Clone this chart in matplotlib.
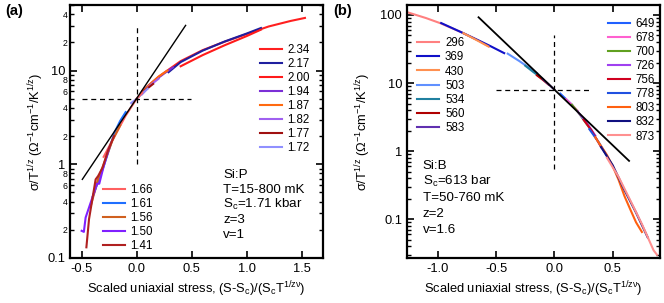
import matplotlib
matplotlib.use("Agg")
import matplotlib.pyplot as plt
import numpy as np
from matplotlib.ticker import FixedLocator, FuncFormatter, LogLocator, NullFormatter

plt.rcParams['font.family'] = ['Liberation Sans', 'DejaVu Sans']
plt.rcParams['mathtext.fontset'] = 'custom'
plt.rcParams['mathtext.rm'] = 'Liberation Sans'
plt.rcParams['mathtext.it'] = 'Liberation Sans'

# ---------------- panel (a) data : Si:P, stress in kbar ----------------
a_labels = ["2.34", "2.17", "2.00", "1.94", "1.87", "1.82", "1.77", "1.72",
            "1.66", "1.61", "1.56", "1.50", "1.41"]
a_colors = ["#ff2020", "#1f1f9f", "#ff1a1a", "#7b2fd6", "#ff6a10", "#a060f0",
            "#a01010", "#9090ff", "#ff6060", "#1f6fff", "#d0601f", "#8020ff", "#b02020"]
a_x = [
    [0.05, 0.2, 0.4, 0.6, 0.8, 1.0, 1.2, 1.4, 1.53],
    [0.29, 0.4, 0.6, 0.8, 1.0, 1.13],
    [0.40, 0.6, 0.8, 1.0, 1.13],
    [0.08, 0.15, 0.25, 0.33],
    [0.0, 0.1, 0.2, 0.28],
    [0.05, 0.12, 0.2],
    [0.02, 0.08, 0.15],
    [-0.05, 0.0, 0.1],
    [-0.3, -0.2, -0.1, 0.0, 0.05],
    [-0.4, -0.3, -0.2, -0.15, -0.1],
    [-0.42, -0.35, -0.3, -0.22, -0.15],
    [-0.50, -0.48, -0.464, -0.418, -0.36, -0.34, -0.3, -0.25],
    [-0.457, -0.433, -0.373, -0.35, -0.31, -0.26, -0.206],
]
a_y = [
    [6.0, 8.6, 12.6, 16.5, 20.3, 24.5, 29.5, 33.8, 36.4],
    [9.6, 12.3, 16.3, 20.4, 24.8, 28.4],
    [11.1, 14.6, 18.6, 23.3, 27.3],
    [6.5, 7.6, 9.3, 10.8],
    [5.0, 6.8, 8.6, 10.0],
    [5.6, 6.9, 8.2],
    [5.3, 6.2, 7.2],
    [4.5, 5.0, 6.4],
    [1.2, 2.0, 3.3, 5.0, 5.8],
    [0.45, 0.95, 2.2, 2.9, 3.6],
    [0.35, 0.7, 1.0, 1.8, 2.6],
    [0.195, 0.19, 0.27, 0.39, 0.62, 0.62, 0.95, 1.5],
    [0.13, 0.26, 0.69, 0.75, 0.92, 1.4, 2.0],
]
a_fit_x = [-0.494, 0.445]
a_fit_y = [0.69, 30.3]
a_crit = (0.0, 5.0)
a_hdash_x = [-0.5, 0.49]
a_vdash_y = [1.0, 30.0]
a_text = ["Si:P", "T=15-800 mK", "S$_c$=1.71 kbar", "z=3", "v=1"]

# ---------------- panel (b) data : Si:B, stress in bar ----------------
b_labels = ["296", "369", "430", "503", "534", "560", "583",
            "649", "678", "700", "726", "756", "778", "803", "832", "873"]
b_colors = ["#ff8080", "#1010c8", "#ff9050", "#6090ff", "#2080a0", "#b00000", "#6030b0",
            "#2060ff", "#ff60d0", "#60a020", "#a040f0", "#d00020", "#2050e0",
            "#ff6010", "#101080", "#ff9090"]
b_x = [
    [-1.263, -1.1, -0.977, -0.8, -0.65, -0.56],
    [-0.97, -0.8, -0.69, -0.55, -0.43],
    [-0.78, -0.68, -0.566],
    [-0.4, -0.3, -0.15],
    [-0.25, -0.18, -0.1],
    [-0.15, -0.1, -0.05],
    [-0.1, -0.05, 0.0],
    [0.05, 0.1, 0.15],
    [0.1, 0.15, 0.2],
    [0.15, 0.2, 0.3],
    [0.2, 0.27, 0.35],
    [0.25, 0.32, 0.4],
    [0.3, 0.38, 0.45],
    [0.35, 0.45, 0.5, 0.55, 0.6, 0.65, 0.7, 0.75],
    [0.4, 0.5, 0.6, 0.7, 0.8],
    [0.45, 0.55, 0.65, 0.75, 0.85, 0.88],
]
b_y = [
    [110, 90, 75.6, 56, 42, 34.4],
    [76, 56, 45.6, 35, 27.5],
    [54, 44, 34.5],
    [27, 21, 14],
    [18, 14.5, 11.5],
    [13, 11.2, 9.5],
    [11.5, 9.6, 8.0],
    [7.0, 5.8, 4.8],
    [5.8, 4.8, 3.9],
    [4.8, 3.8, 2.2],
    [3.8, 2.7, 1.7],
    [2.9, 2.0, 1.15],
    [2.1, 1.35, 0.85],
    [1.6, 0.88, 0.6, 0.38, 0.22, 0.14, 0.09, 0.065],
    [1.15, 0.62, 0.27, 0.125, 0.054],
    [0.8, 0.42, 0.19, 0.085, 0.035, 0.03],
]
b_fit_x = [-0.65, 0.64]
b_fit_y = [92.5, 0.72]
b_crit = (0.0, 8.0)
b_hdash_x = [-0.5, 0.3]
b_vdash_y = [0.55, 50.0]
b_text = ["Si:B", "S$_c$=613 bar", "T=50-760 mK", "z=2", "v=1.6"]

xlabel = "Scaled uniaxial stress, (S-S$_c$)/(S$_c$T$^{1/z\\nu}$)"
ylabel = "σ/T$^{1/z}$ (Ω$^{-1}$cm$^{-1}$/K$^{1/z}$)"

fig = plt.figure(figsize=(6.64, 3.03), dpi=100)
axa = fig.add_axes([70/664, 1-258/303, 253/664, 253/303])
axb = fig.add_axes([407/664, 1-258/303, 253/664, 253/303])


def style(ax):
    ax.set_yscale('log')
    for s in ax.spines.values():
        s.set_linewidth(1.6)
    ax.tick_params(which='both', direction='in', top=True, right=True, labelsize=9.3)
    ax.tick_params(which='major', length=5, width=1.2)
    ax.tick_params(which='minor', length=3, width=1.0)
    ax.set_xlabel(xlabel, fontsize=9.3, labelpad=3)
    ax.set_ylabel(ylabel, fontsize=9.3)


def minor_lab(v, pos):
    m = v / 10 ** np.floor(np.log10(v) + 1e-9)
    d = int(round(m))
    return str(d) if d in (2, 4, 6, 8) else ""


# ---- (a)
style(axa)
handles = []
for xs, ys, c, lab in zip(a_x, a_y, a_colors, a_labels):
    h, = axa.plot(xs, ys, color=c, lw=1.5, label=lab)
    handles.append(h)
axa.plot(a_fit_x, a_fit_y, color='black', lw=1.0)
axa.plot(a_hdash_x, [a_crit[1]] * 2, 'k--', lw=0.9, dashes=(4, 3))
axa.plot([a_crit[0]] * 2, a_vdash_y, 'k--', lw=0.9, dashes=(4, 3))
axa.set_xlim(-0.606, 1.694)
axa.set_ylim(0.1, 50)
axa.set_xticks([-0.5, 0.0, 0.5, 1.0, 1.5])
axa.xaxis.set_major_formatter(FuncFormatter(lambda v, p: f"{v:.1f}"))
axa.yaxis.set_major_locator(FixedLocator([0.1, 1, 10]))
axa.yaxis.set_major_formatter(FuncFormatter(lambda v, p: f"{v:g}"))
axa.yaxis.set_minor_locator(LogLocator(base=10, subs=np.arange(2, 10)))
axa.yaxis.set_minor_formatter(FuncFormatter(minor_lab))
axa.tick_params(axis='y', which='minor', labelsize=6.3, pad=1.5)
axa.yaxis.set_label_coords(-0.095, 0.5)
leg1 = axa.legend(handles=handles[:8], loc='upper left', bbox_to_anchor=(0.75, 0.846),
                  frameon=False, fontsize=8.3, handlelength=1.9, handletextpad=0.5,
                  labelspacing=0.18, borderpad=0, borderaxespad=0)
axa.add_artist(leg1)
axa.legend(handles=handles[8:], loc='upper left', bbox_to_anchor=(0.13, 0.292),
           frameon=False, fontsize=8.3, handlelength=1.9, handletextpad=0.5,
           labelspacing=0.18, borderpad=0, borderaxespad=0)
for i, t in enumerate(a_text):
    axa.text(0.605, 0.328 - i * 0.059, t, transform=axa.transAxes, fontsize=9.6, va='center')
fig.text(0.008, 0.965, "(a)", fontsize=10.5, fontweight='bold', va='center')

# ---- (b)
style(axb)
handles = []
for xs, ys, c, lab in zip(b_x, b_y, b_colors, b_labels):
    h, = axb.plot(xs, ys, color=c, lw=1.5, label=lab)
    handles.append(h)
axb.plot(b_fit_x, b_fit_y, color='black', lw=1.3)
axb.plot(b_hdash_x, [b_crit[1]] * 2, 'k--', lw=0.9, dashes=(4, 3))
axb.plot([b_crit[0]] * 2, b_vdash_y, 'k--', lw=0.9, dashes=(4, 3))
axb.set_xlim(-1.263, 0.905)
axb.set_ylim(0.027, 140)
axb.set_xticks([-1.0, -0.5, 0.0, 0.5])
axb.xaxis.set_major_formatter(FuncFormatter(lambda v, p: f"{v:.1f}"))
axb.yaxis.set_major_locator(FixedLocator([0.1, 1, 10, 100]))
axb.yaxis.set_major_formatter(FuncFormatter(lambda v, p: f"{v:g}"))
axb.yaxis.set_minor_locator(LogLocator(base=10, subs=np.arange(2, 10)))
axb.yaxis.set_minor_formatter(NullFormatter())
axb.yaxis.set_label_coords(-0.134, 0.5)
leg2 = axb.legend(handles=handles[:7], loc='upper left', bbox_to_anchor=(0.041, 0.872),
                  frameon=False, fontsize=8.3, handlelength=1.9, handletextpad=0.5,
                  labelspacing=0.18, borderpad=0, borderaxespad=0)
axb.add_artist(leg2)
axb.legend(handles=handles[7:], loc='upper left', bbox_to_anchor=(0.794, 0.949),
           frameon=False, fontsize=8.3, handlelength=1.9, handletextpad=0.5,
           labelspacing=0.18, borderpad=0, borderaxespad=0)
for i, t in enumerate(b_text):
    axb.text(0.062, 0.364 - i * 0.063, t, transform=axb.transAxes, fontsize=9.6, va='center')
fig.text(0.502, 0.965, "(b)", fontsize=10.5, fontweight='bold', va='center')

fig.savefig("out.png", dpi=100)
